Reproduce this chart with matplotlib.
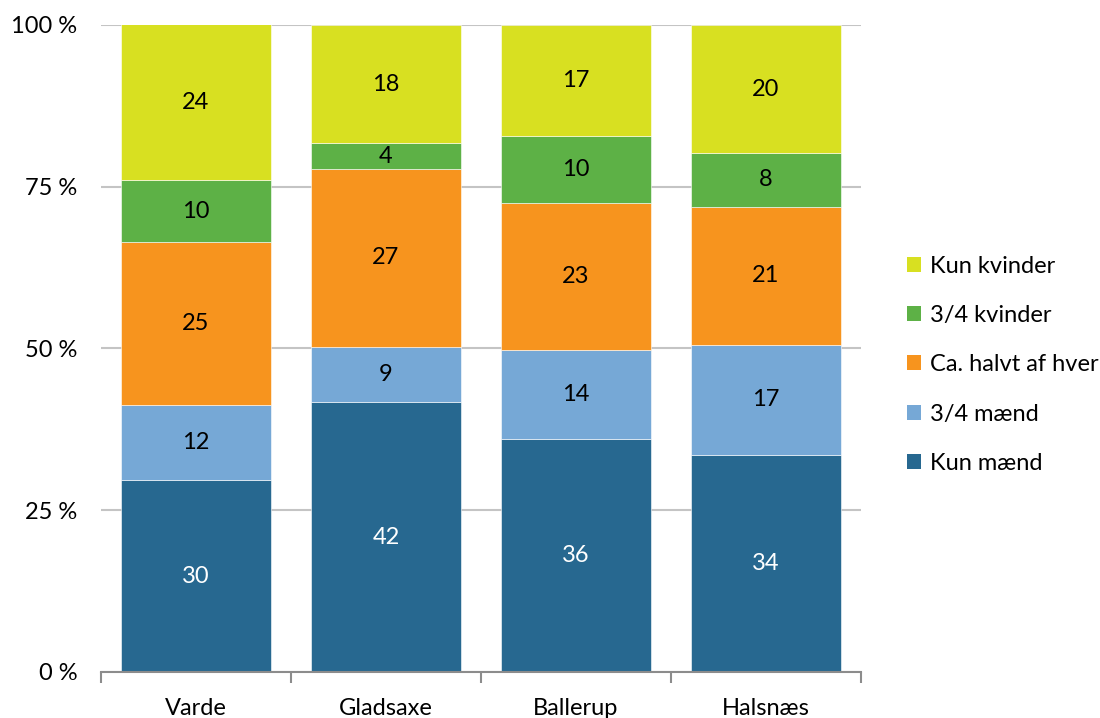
import numpy as np
import matplotlib.pyplot as plt
from matplotlib.patches import Patch

plt.rcParams['font.family'] = ['Lato', 'DejaVu Sans']

# Data
kommuner = ['Varde', 'Gladsaxe', 'Ballerup', 'Halsnæs']
series = ['Kun mænd', '3/4 mænd', 'Ca. halvt af hver', '3/4 kvinder', 'Kun kvinder']
kun_maend = [29.6, 41.7, 36.0, 33.6]
tre_kvart_maend = [11.6, 8.6, 13.7, 17.0]
halvt = [25.2, 27.4, 22.8, 21.3]
tre_kvart_kvinder = [9.6, 4.0, 10.4, 8.3]
kun_kvinder = [24.1, 18.3, 17.1, 19.8]
labels = [[30, 42, 36, 34], [12, 9, 14, 17], [25, 27, 23, 21],
          [10, 4, 10, 8], [24, 18, 17, 20]]

colors = ['#276890', '#76A8D6', '#F7941E', '#5DB146', '#D8E021']
text_colors = ['white', 'black', 'black', 'black', 'black']

fig = plt.figure(figsize=(11, 7.18), dpi=100)
ax = fig.add_axes([0.0918, 0.0641, 0.6909, 0.9011])

x = np.arange(len(kommuner))
bottom = np.zeros(len(kommuner))
data = [kun_maend, tre_kvart_maend, halvt, tre_kvart_kvinder, kun_kvinder]
for vals, lab, col, tcol, name in zip(data, labels, colors, text_colors, series):
    vals = np.array(vals)
    ax.bar(x, vals, 0.785, bottom=bottom, color=col, edgecolor='white',
           linewidth=0.4, label=name, zorder=3)
    for xi, b, v, l in zip(x, bottom, vals, lab):
        ax.text(xi, b + v / 2, str(l), ha='center', va='center',
                fontsize=17, color=tcol, zorder=4)
    bottom += vals

ax.set_xlim(-0.5, 3.5)
ax.set_ylim(0, 100)
ax.set_yticks([0, 25, 50, 75, 100])
ax.set_yticklabels(['0 %', '25 %', '50 %', '75 %', '100 %'], fontsize=17)
ax.set_xticks(x)
ax.set_xticklabels(kommuner, fontsize=17)
ax.tick_params(axis='y', length=0, pad=17)
ax.tick_params(axis='x', length=0, pad=19)
ax.set_xticks([-0.5, 0.5, 1.5, 2.5, 3.5], minor=True)
ax.tick_params(axis='x', which='minor', length=8, width=1.5, color='#8c8c8c')
ax.yaxis.grid(True, color='#c4c4c4', linewidth=1.5, zorder=0)
for s in ['top', 'right', 'left']:
    ax.spines[s].set_visible(False)
ax.spines['bottom'].set_color('#8c8c8c')
ax.spines['bottom'].set_linewidth(1.5)
ax.spines['bottom'].set_zorder(5)

handles = [Patch(facecolor=c, label=s) for c, s in zip(colors, series)][::-1]
fig.legend(handles=handles, loc='center left', bbox_to_anchor=(0.805, 0.492),
           frameon=False, fontsize=17, handlelength=0.6, handleheight=0.6,
           handletextpad=0.4, labelspacing=1.2)

fig.savefig('out.png', dpi=100)
